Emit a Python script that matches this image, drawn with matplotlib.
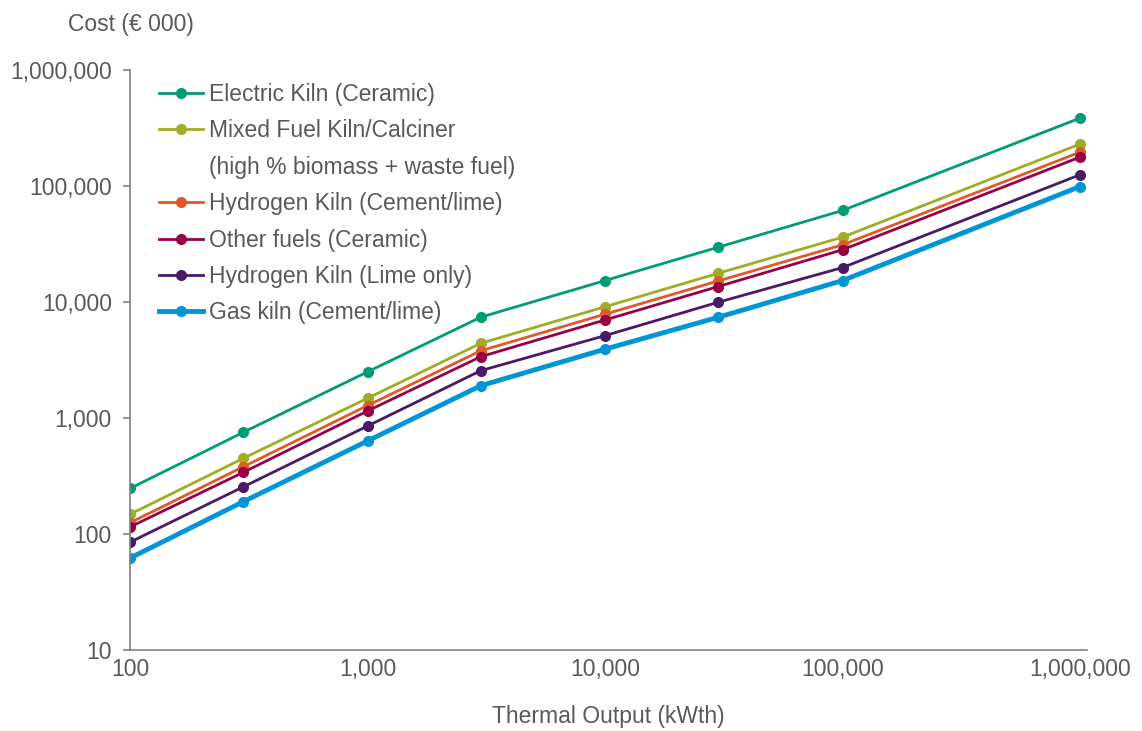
import matplotlib
matplotlib.use('Agg')
import matplotlib.pyplot as plt
from matplotlib.lines import Line2D
from matplotlib.ticker import FuncFormatter, FixedLocator, NullLocator

plt.rcParams['font.family'] = ['Liberation Sans', 'DejaVu Sans']

# Thermal output (kWth)
output_kwth = [100, 300, 1000, 3000, 10000, 30000, 100000, 1000000]

# Cost (EUR 000)
electric_ceramic = [247, 753, 2500, 7400, 15300, 29700, 61500, 385000]
mixed_fuel = [148, 449, 1480, 4410, 9100, 17700, 36200, 230000]
hydrogen_cement = [125, 380, 1280, 3800, 7850, 15200, 31100, 196000]
other_fuels_ceramic = [115, 340, 1150, 3380, 7000, 13600, 28200, 177500]
hydrogen_lime = [85, 255, 853, 2560, 5130, 9960, 19800, 125000]
gas_cement = [62, 190, 634, 1900, 3920, 7390, 15300, 99000]

series = [
    ('Electric Kiln (Ceramic)', electric_ceramic, '#009B77', 2.0),
    ('Mixed Fuel Kiln/Calciner', mixed_fuel, '#A0AC23', 2.0),
    ('Hydrogen Kiln (Cement/lime)', hydrogen_cement, '#E0592A', 2.0),
    ('Other fuels (Ceramic)', other_fuels_ceramic, '#970046', 2.0),
    ('Hydrogen Kiln (Lime only)', hydrogen_lime, '#4A1A66', 2.0),
    ('Gas kiln (Cement/lime)', gas_cement, '#0096D6', 3.5),
]

x_ticks = [100, 1000, 10000, 100000, 1000000]
y_ticks = [10, 100, 1000, 10000, 100000, 1000000]

grey = '#595959'
axis_grey = '#808080'
fs = 16.5

fig = plt.figure(figsize=(11.42, 7.31), dpi=100)
ax = fig.add_axes([130 / 1142, 1 - 650 / 731, (1087 - 130) / 1142, (650 - 70) / 731])

handles = []
for name, vals, col, lw in series:
    h, = ax.plot(output_kwth, vals, color=col, lw=lw, marker='o', markersize=8,
                 markeredgewidth=0, label=name)
    handles.append(h)

# extra legend row for the wrapped second label
blank = Line2D([], [], linestyle='none', marker='none',
               label='(high % biomass + waste fuel)')
handles.insert(2, blank)

ax.set_xscale('log')
ax.set_yscale('log')
ax.set_xlim(100, 1.07e6)
ax.set_ylim(10, 1e6)

fmt = FuncFormatter(lambda v, p: f'{v:,.0f}')
ax.xaxis.set_major_locator(FixedLocator(x_ticks))
ax.yaxis.set_major_locator(FixedLocator(y_ticks))
ax.xaxis.set_minor_locator(NullLocator())
ax.yaxis.set_minor_locator(NullLocator())
ax.xaxis.set_major_formatter(fmt)
ax.yaxis.set_major_formatter(fmt)

for s in ['top', 'right']:
    ax.spines[s].set_visible(False)
for s in ['left', 'bottom']:
    ax.spines[s].set_color(axis_grey)
    ax.spines[s].set_linewidth(1.2)

ax.tick_params(axis='y', length=5, width=1.2, color=axis_grey, labelcolor=grey,
               labelsize=fs, pad=8)
ax.tick_params(axis='x', length=0, labelcolor=grey, labelsize=fs, pad=6)

fig.text(68 / 1142, 1 - 24 / 731, 'Cost (€ 000)', color=grey, fontsize=fs,
         ha='left', va='center')
fig.text(608 / 1142, 1 - 717 / 731, 'Thermal Output (kWth)', color=grey,
         fontsize=fs, ha='center', va='center')

leg = ax.legend(handles=handles, loc='upper left',
                bbox_to_anchor=(159 / 1142, 1 - 83 / 731),
                bbox_transform=fig.transFigure, frameon=False, fontsize=fs,
                handlelength=1.9, handletextpad=0.3, labelspacing=0.585,
                borderpad=0, borderaxespad=0)
for t in leg.get_texts():
    t.set_color(grey)

fig.savefig('out.png', dpi=100, facecolor='white')
